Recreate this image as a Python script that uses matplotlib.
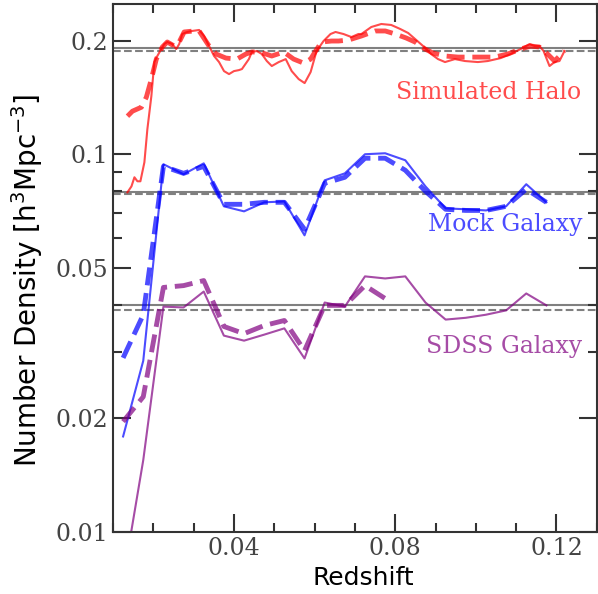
import matplotlib
matplotlib.use("Agg")
import matplotlib.pyplot as plt
from matplotlib.ticker import FixedLocator, LogLocator, NullFormatter, MultipleLocator, FixedFormatter

# --- Simulated halo (fine redshift sampling) ---
halo_z = [0.01358, 0.01457, 0.01531, 0.01605, 0.01679, 0.01778, 0.01852, 0.01951,
          0.02025, 0.02099, 0.02198, 0.02272, 0.02346, 0.02469, 0.02568, 0.02642,
          0.02716, 0.02840, 0.02963, 0.03136, 0.03259, 0.03383, 0.03506, 0.03630,
          0.03753, 0.03877, 0.04000, 0.04123, 0.04198, 0.04370, 0.04444, 0.04568,
          0.04691, 0.04815, 0.04938, 0.05111, 0.05284, 0.05432, 0.05605, 0.05753,
          0.05901, 0.06049, 0.06222, 0.06395, 0.06519, 0.06716, 0.06914, 0.07086,
          0.07160, 0.07407, 0.07654, 0.07901, 0.08123, 0.08321, 0.08494, 0.08691,
          0.08889, 0.09062, 0.09235, 0.09481, 0.09728, 0.10049, 0.10296, 0.10617,
          0.10864, 0.11111, 0.11333, 0.11457, 0.11580, 0.11679, 0.11827, 0.11951,
          0.12074, 0.12198]
halo_n = [0.0793, 0.0822, 0.0869, 0.0848, 0.0848, 0.0952, 0.1165, 0.1425,
          0.1754, 0.1820, 0.1899, 0.1958, 0.1982, 0.1958, 0.1899, 0.1958,
          0.2081, 0.2107, 0.2120, 0.2133, 0.2056, 0.1934, 0.1820, 0.1754,
          0.1660, 0.1630, 0.1660, 0.1670, 0.1681, 0.1786, 0.1865, 0.1876,
          0.1842, 0.1765, 0.1712, 0.1754, 0.1786, 0.1660, 0.1581, 0.1543,
          0.1650, 0.1876, 0.1994, 0.2081, 0.2107, 0.2081, 0.2043, 0.2081,
          0.2081, 0.2172, 0.2212, 0.2199, 0.2146, 0.2094, 0.2018, 0.1934,
          0.1842, 0.1786, 0.1754, 0.1786, 0.1765, 0.1754, 0.1765, 0.1797,
          0.1842, 0.1899, 0.1958, 0.1934, 0.1934, 0.1876, 0.1712, 0.1754,
          0.1765, 0.1876]

halo_model_z = [0.01358, 0.01481, 0.01704, 0.01827, 0.01951, 0.02074, 0.02222, 0.02346,
                0.02519, 0.02642, 0.02765, 0.03012, 0.03136, 0.03383, 0.03556, 0.03802,
                0.04074, 0.04296, 0.04444, 0.04617, 0.04790, 0.04938, 0.05235, 0.05481,
                0.05728, 0.05901, 0.06025, 0.06173, 0.06420, 0.06593, 0.06840, 0.07160,
                0.07506, 0.07753, 0.08000, 0.08272, 0.08494, 0.08741, 0.08938, 0.09235,
                0.09556, 0.10000, 0.10469, 0.10790, 0.11111, 0.11358, 0.11580, 0.11778,
                0.11951, 0.12074, 0.12198]
halo_model_n = [0.1261, 0.1300, 0.1332, 0.1416, 0.1581, 0.1786, 0.1922, 0.1982,
                0.1934, 0.1982, 0.2107, 0.2120, 0.2120, 0.1934, 0.1842, 0.1797,
                0.1786, 0.1842, 0.1865, 0.1865, 0.1842, 0.1820, 0.1865, 0.1786,
                0.1743, 0.1786, 0.1876, 0.1982, 0.1994, 0.1994, 0.2006, 0.2056,
                0.2120, 0.2120, 0.2081, 0.2031, 0.1982, 0.1899, 0.1853, 0.1820,
                0.1808, 0.1808, 0.1808, 0.1842, 0.1899, 0.1934, 0.1922, 0.1842,
                0.1765, 0.1820, 0.1876]

# --- Galaxy samples (binned in dz = 0.005) ---
bin_z = [0.0125, 0.0175, 0.0225, 0.0275, 0.0325, 0.0375, 0.0425, 0.0475,
         0.0525, 0.0575, 0.0625, 0.0675, 0.0725, 0.0775, 0.0825, 0.0875,
         0.0925, 0.0975, 0.1025, 0.1075, 0.1125, 0.1175]

mock_n = [0.0179, 0.0284, 0.0941, 0.0885, 0.0946, 0.0728, 0.0706, 0.0746,
          0.0750, 0.0610, 0.0853, 0.0890, 0.1000, 0.1006, 0.0964, 0.0822,
          0.0719, 0.0715, 0.0710, 0.0728, 0.0833, 0.0746]
mock_model_n = [0.0289, 0.0376, 0.0929, 0.0890, 0.0929, 0.0737, 0.0737, 0.0746,
                0.0746, 0.0633, 0.0838, 0.0869, 0.0976, 0.0976, 0.0907, 0.0798,
                0.0715, 0.0710, 0.0710, 0.0728, 0.0808, 0.0746]

sdss_n = [0.00746, 0.0155, 0.0395, 0.0393, 0.0433, 0.0331, 0.0321, 0.0333,
          0.0346, 0.0288, 0.0405, 0.0395, 0.0475, 0.0469, 0.0475, 0.0405,
          0.0365, 0.0369, 0.0376, 0.0386, 0.0428, 0.0398]
sdss_model_z = bin_z[:14]
sdss_model_n = [0.0196, 0.0228, 0.0444, 0.0449, 0.0463, 0.0350, 0.0335, 0.0352,
                0.0363, 0.0302, 0.0398, 0.0398, 0.0449, 0.0415]

# mean densities of each sample
halo_mean, halo_model_mean = 0.1914, 0.1879
mock_mean, mock_model_mean = 0.0794, 0.0783
sdss_mean, sdss_model_mean = 0.0398, 0.0388

y_ticks = [0.01, 0.02, 0.05, 0.1, 0.2]
y_tick_labels = ["0.01", "0.02", "0.05", "0.1", "0.2"]
x_ticks = [0.04, 0.08, 0.12]
x_tick_labels = ["0.04", "0.08", "0.12"]

fig = plt.figure(figsize=(5.98, 5.94), dpi=100)
ax = fig.add_axes([0.189, 0.1044, 0.809, 0.889])

for m in (halo_mean, mock_mean, sdss_mean):
    ax.axhline(m, color="gray", lw=1.5, ls="-", zorder=1)
for m in (halo_model_mean, mock_model_mean, sdss_model_mean):
    ax.axhline(m, color="gray", lw=1.5, ls="--", zorder=1)

ax.plot(halo_z, halo_n, color="red", lw=1.5, alpha=0.7)
ax.plot(halo_model_z, halo_model_n, color="red", lw=3.5, ls="--", alpha=0.7)
ax.plot(bin_z, mock_n, color="blue", lw=1.5, alpha=0.7)
ax.plot(bin_z, mock_model_n, color="blue", lw=3.5, ls="--", alpha=0.7)
ax.plot(bin_z, sdss_n, color="purple", lw=1.5, alpha=0.7)
ax.plot(sdss_model_z, sdss_model_n, color="purple", lw=3.5, ls="--", alpha=0.7)

txt = dict(family="DejaVu Serif", fontsize=17, ha="right", va="center", alpha=0.7)
ax.text(0.1262, 0.146, "Simulated Halo", color="red", **txt)
ax.text(0.1264, 0.0652, "Mock Galaxy", color="blue", **txt)
ax.text(0.1264, 0.031, "SDSS Galaxy", color="purple", **txt)

ax.set_yscale("log")
ax.set_xlim(0.01, 0.13)
ax.set_ylim(0.01, 0.25)

ax.yaxis.set_major_locator(FixedLocator(y_ticks))
ax.yaxis.set_major_formatter(FixedFormatter(y_tick_labels))
ax.yaxis.set_minor_locator(LogLocator(base=10, subs=range(2, 10)))
ax.yaxis.set_minor_formatter(NullFormatter())
ax.xaxis.set_major_locator(FixedLocator(x_ticks))
ax.xaxis.set_major_formatter(FixedFormatter(x_tick_labels))
ax.xaxis.set_minor_locator(MultipleLocator(0.01))

ax.tick_params(which="both", direction="in", top=True, right=True,
               color="#333333", width=1.5)
ax.tick_params(which="major", length=13)
ax.tick_params(which="minor", length=6.5)
for lab in ax.get_xticklabels() + ax.get_yticklabels():
    lab.set_family("DejaVu Serif")
    lab.set_fontsize(17)
    lab.set_color("#444444")
for s in ax.spines.values():
    s.set_color("#333333")
    s.set_linewidth(1.5)

ax.set_xlabel("Redshift", fontsize=18)
ax.xaxis.set_label_coords(0.5165, -0.0644)
ax.set_ylabel(r"Number Density [h$^3$Mpc$^{-3}$]", fontsize=20)
ax.yaxis.set_label_coords(-0.1405, 0.4763)

fig.savefig("out.png", dpi=100)
